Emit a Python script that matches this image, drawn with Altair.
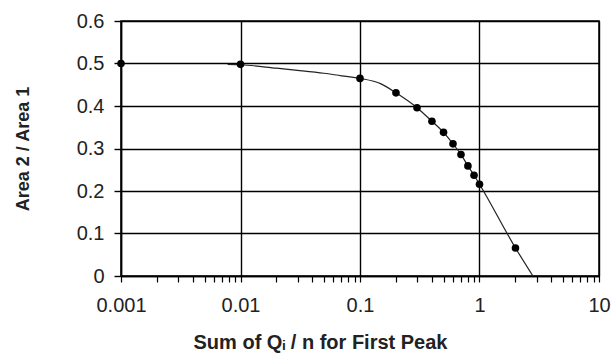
import altair as alt
import pandas as pd

# measured points
pts_x = [0.001, 0.01, 0.1, 0.2, 0.3, 0.4, 0.5, 0.6, 0.7, 0.8, 0.9, 1.0, 2.0]
pts_y = [0.500, 0.498, 0.465, 0.431, 0.396, 0.364, 0.338, 0.311, 0.286, 0.259, 0.237, 0.216, 0.066]

# fitted curve
curve_x = [0.0078, 0.01, 0.02, 0.03, 0.05, 0.07, 0.1, 0.15, 0.2, 0.3, 0.4, 0.5,
           0.6, 0.7, 0.8, 0.9, 1.0, 2.0, 2.8]
curve_y = [0.498, 0.497, 0.489, 0.484, 0.477, 0.471, 0.465, 0.452, 0.431, 0.396,
           0.364, 0.338, 0.311, 0.286, 0.259, 0.237, 0.216, 0.066, 0.0]

y_ticks = [0, 0.1, 0.2, 0.3, 0.4, 0.5, 0.6]
decades = [0.001, 0.01, 0.1, 1, 10]
x_ticks = [round(d * m, 6) for d in decades[:-1] for m in range(1, 10)] + [10]

pts = pd.DataFrame({"x": pts_x, "y": pts_y})
curve = pd.DataFrame({"x": curve_x, "y": curve_y})

DEC = "abs(log(datum.value)/LN10 - round(log(datum.value)/LN10)) < 0.001"

x_enc = alt.X(
    "x:Q",
    scale=alt.Scale(type="log", domain=[0.001, 10], nice=False),
    axis=alt.Axis(
        values=x_ticks,
        labelExpr=f"({DEC}) ? format(datum.value, '~g') : ''",
        labelOverlap=False,
        labelFlush=False,
        labelFont="Liberation Sans",
        labelFontSize=20,
        labelColor="#222",
        labelPadding=13,
        tickSize=6,
        tickColor="black",
        tickWidth=1.2,
        domainColor="black",
        domainWidth=1.5,
        grid=True,
        gridColor="black",
        gridWidth=1.4,
        gridOpacity={"condition": {"test": DEC, "value": 1}, "value": 0},
        title="Sum of Q\u1d62 / n for First Peak",
        titleFont="Liberation Sans",
        titleFontSize=20,
        titleFontWeight="bold",
        titleColor="#222",
        titleX=199,
        titleY=72,
        titleBaseline="alphabetic",
    ),
)

y_enc = alt.Y(
    "y:Q",
    scale=alt.Scale(domain=[0, 0.6], nice=False, zero=True),
    axis=alt.Axis(
        values=y_ticks,
        format="~g",
        labelFlush=False,
        labelFont="Liberation Sans",
        labelFontSize=20,
        labelColor="#222",
        labelPadding=10,
        tickSize=7,
        tickColor="black",
        tickWidth=1.4,
        domainColor="black",
        domainWidth=1.5,
        grid=True,
        gridColor="black",
        gridWidth=1.4,
        title="Area 2 / Area 1",
        titleFont="Liberation Sans",
        titleFontSize=18,
        titleFontWeight="bold",
        titleColor="#222",
        titleX=-92.7,
        titleY=127.5,
        titleBaseline="alphabetic",
        titleAlign="center",
        titleAngle=270,
    ),
)

line = alt.Chart(curve).mark_line(
    color="#222", strokeWidth=1.2, interpolate="monotone"
).encode(x=x_enc, y=y_enc)

points = alt.Chart(pts).mark_point(
    filled=True, color="black", opacity=1, size=58, shape="circle"
).encode(x=alt.X("x:Q"), y=alt.Y("y:Q"))

chart = (
    alt.layer(line, points)
    .properties(
        width=478,
        height=255,
        autosize=alt.AutoSizeParams(type="none"),
        padding={"left": 121, "top": 21, "right": 14, "bottom": 79},
        background="white",
    )
    .configure_view(stroke="black", strokeWidth=1.5)
)

chart.save("out.html", embed_options={"renderer": "svg", "actions": False})
